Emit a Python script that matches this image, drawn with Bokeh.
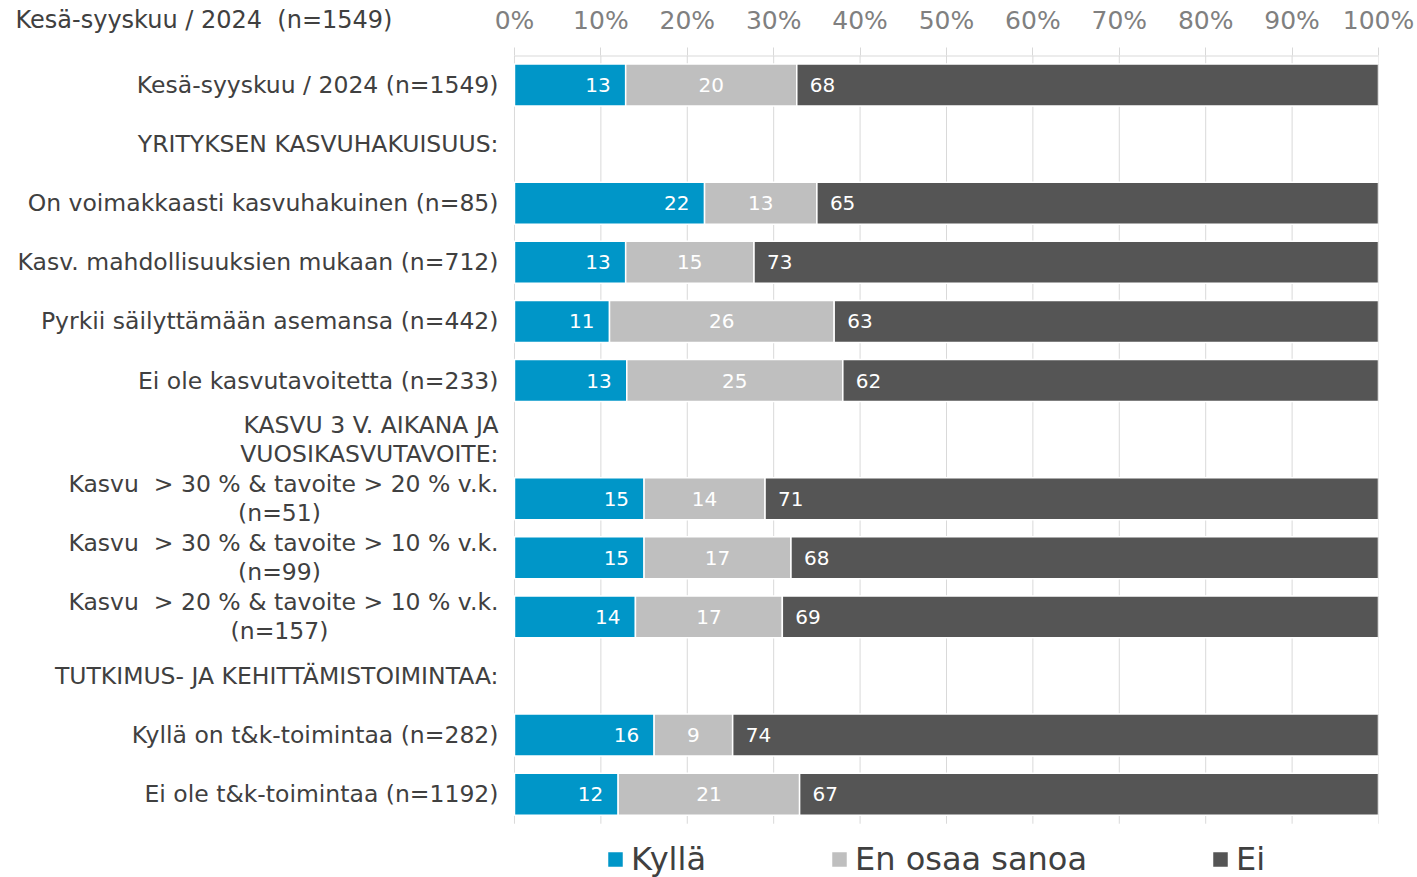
from bokeh.plotting import figure
from bokeh.models import (ColumnDataSource, Range1d, FixedTicker, Title,
                          Legend, LegendItem, NumeralTickFormatter)
from bokeh.embed import file_html
from bokeh.resources import INLINE
from bokeh.core.properties import value

FONT = "DejaVu Sans"
NB = "\u00a0"

title_text = "Kesä-syyskuu / 2024" + NB + " (n=1549)"
categories = [
    "Kesä-syyskuu / 2024 (n=1549)",
    "YRITYKSEN KASVUHAKUISUUS:",
    "On voimakkaasti kasvuhakuinen (n=85)",
    "Kasv. mahdollisuuksien mukaan (n=712)",
    "Pyrkii säilyttämään asemansa (n=442)",
    "Ei ole kasvutavoitetta (n=233)",
    "KASVU 3 V. AIKANA JA\nVUOSIKASVUTAVOITE:",
    "Kasvu" + NB + " > 30 % & tavoite > 20 % v.k.\n(n=51)",
    "Kasvu" + NB + " > 30 % & tavoite > 10 % v.k.\n(n=99)",
    "Kasvu" + NB + " > 20 % & tavoite > 10 % v.k.\n(n=157)",
    "TUTKIMUS- JA KEHITTÄMISTOIMINTAA:",
    "Kyllä on t&k-toimintaa (n=282)",
    "Ei ole t&k-toimintaa (n=1192)",
]
kylla = [13, None, 22, 13, 11, 13, None, 15, 15, 14, None, 16, 12]
eos = [20, None, 13, 15, 26, 25, None, 14, 17, 17, None, 9, 21]
ei = [68, None, 65, 73, 63, 62, None, 71, 68, 69, None, 74, 67]
series_names = ["Kyllä", "En osaa sanoa", "Ei"]
colors = ["#0096C8", "#BFBFBF", "#555555"]
tick_values = [0, 0.1, 0.2, 0.3, 0.4, 0.5, 0.6, 0.7, 0.8, 0.9, 1.0]

# ---- derived data for the bars ----
rows = [i for i, v in enumerate(kylla) if v is not None]
k_r, e_r, k_t, e_t, n_t = [], [], [], [], []
for i in rows:
    t = kylla[i] + eos[i] + ei[i]
    k_r.append(kylla[i] / t)
    e_r.append((kylla[i] + eos[i]) / t)
    k_t.append(str(kylla[i]))
    e_t.append(str(eos[i]))
    n_t.append(str(ei[i]))
src = ColumnDataSource(dict(
    y=rows, k_l=[0.0] * len(rows), k_r=k_r, e_l=k_r, e_r=e_r, n_l=e_r,
    n_r=[1.0] * len(rows), e_c=[(a + b) / 2 for a, b in zip(k_r, e_r)],
    k_t=k_t, e_t=e_t, n_t=n_t))

# ---- category label sources ----
single = dict(y=[], text=[])
first = dict(y=[], text=[])
second_r = dict(y=[], text=[])
second_c = dict(y=[], text=[])
for i, c in enumerate(categories):
    parts = c.split("\n")
    if len(parts) == 1:
        single["y"].append(i); single["text"].append(c)
    else:
        first["y"].append(i); first["text"].append(parts[0])
        if parts[1].startswith("("):
            second_c["y"].append(i); second_c["text"].append(parts[1])
        else:
            second_r["y"].append(i); second_r["text"].append(parts[1])

grid_src = ColumnDataSource(dict(x=tick_values,
                                 y0=[-0.5] * len(tick_values),
                                 y1=[12.5] * len(tick_values)))

p = figure(width=1417, height=877, output_backend="svg", toolbar_location=None,
           x_range=Range1d(-0.5775, 1.0), y_range=Range1d(13.41, -0.5),
           x_axis_location="above", y_axis_location=None,
           min_border_left=15, min_border_right=39,
           min_border_top=55, min_border_bottom=0)
p.outline_line_color = None
p.xgrid.grid_line_color = None
p.ygrid.grid_line_color = None

GRID = "#D9D9D9"
p.segment(x0="x", x1="x", y0="y0", y1="y1", source=grid_src,
          line_color=GRID, line_width=1)
p.segment(x0=[tick_values[0]], x1=[tick_values[-1]], y0=[-0.5], y1=[-0.5],
          line_color=GRID, line_width=2)

bh = 0.71
r1 = p.hbar(y="y", left="k_l", right="k_r", height=bh, source=src,
            fill_color=colors[0], line_color="white", line_width=1.5)
r2 = p.hbar(y="y", left="e_l", right="e_r", height=bh, source=src,
            fill_color=colors[1], line_color="white", line_width=1.5)
r3 = p.hbar(y="y", left="n_l", right="n_r", height=bh, source=src,
            fill_color=colors[2], line_color="white", line_width=1.5)

common = dict(source=src, text_font=value(FONT), text_font_size="20px",
              text_color="white", text_baseline="middle")
p.text(x="k_r", y="y", text="k_t", text_align="right", x_offset=-15, **common)
p.text(x="e_c", y="y", text="e_t", text_align="center", **common)
p.text(x="n_l", y="y", text="n_t", text_align="left", x_offset=13, **common)

lab = dict(text_font=value(FONT), text_font_size="23.5px", text_color="#404040",
           text_baseline="middle")
p.text(x=0, y="y", text="text", source=ColumnDataSource(single),
       text_align="right", x_offset=-16, **lab)
p.text(x=0, y="y", text="text", source=ColumnDataSource(first),
       text_align="right", x_offset=-16, y_offset=-14.5, **lab)
p.text(x=0, y="y", text="text", source=ColumnDataSource(second_r),
       text_align="right", x_offset=-16, y_offset=14.5, **lab)
p.text(x=0, y="y", text="text", source=ColumnDataSource(second_c),
       text_align="center", x_offset=-235, y_offset=14.5, **lab)

# top axis
xa = p.xaxis[0]
xa.ticker = FixedTicker(ticks=tick_values)
xa.formatter = NumeralTickFormatter(format="0%")
xa.axis_line_color = None
xa.major_tick_line_color = GRID
xa.major_tick_out = 8
xa.major_tick_in = 0
xa.minor_tick_line_color = None
xa.major_label_text_color = "#808080"
xa.major_label_text_font = FONT
xa.major_label_text_font_size = "25px"
xa.major_label_standoff = 13

# title at the top-left, on the same row as the percent labels
p.add_layout(Title(text=title_text, align="left", vertical_align="bottom",
                   standoff=-62, text_font=FONT, text_font_size="24px",
                   text_font_style="normal", text_color="#404040"), "above")

legend = Legend(items=[LegendItem(label=series_names[0], renderers=[r1]),
                       LegendItem(label=series_names[1], renderers=[r2]),
                       LegendItem(label=series_names[2], renderers=[r3])],
                orientation="horizontal", location=(590, -1),
                label_text_font=FONT, label_text_font_size="32px",
                label_text_color="#404040", glyph_width=20, glyph_height=20,
                label_standoff=6, spacing=123, padding=0, margin=0,
                border_line_color=None, background_fill_alpha=0)
p.add_layout(legend)

open("out.html", "w").write(file_html(p, INLINE))
